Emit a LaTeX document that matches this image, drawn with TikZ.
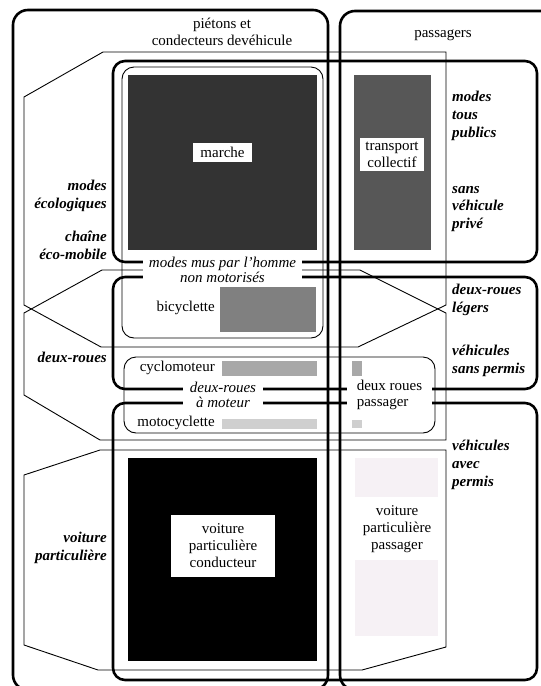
\documentclass[tikz,border=0pt]{standalone}
\usepackage{fontspec}
\setmainfont{Liberation Serif}
\definecolor{marchegray}{HTML}{333333}
\definecolor{transgray}{HTML}{575757}
\definecolor{bikegray}{HTML}{808080}
\definecolor{cyclogray}{HTML}{A8A8A8}
\definecolor{motogray}{HTML}{CFCFCF}
\definecolor{pinkish}{HTML}{F6F1F5}
\begin{document}
\begin{tikzpicture}[x=1pt,y=-1pt,
  heavyline/.style={line width=2.6pt, rounded corners=12pt},
  outerline/.style={line width=2.6pt, rounded corners=15pt},
  thinline/.style={line width=0.9pt, line join=miter},
  thinbox/.style={line width=0.9pt, rounded corners=12pt},
  lab/.style={font=\fontsize{15}{17}\selectfont, align=center, inner sep=0pt},
  whitelab/.style={lab, fill=white},
  gaplab/.style={font=\fontsize{15}{15.5}\itshape\selectfont, align=center, inner sep=0pt, fill=white},
  gaplabup/.style={font=\fontsize{15}{15.5}\selectfont, align=left, inner sep=0pt, fill=white},
  sidelab/.style={font=\fontsize{15}{17.7}\bfseries\itshape\selectfont, inner sep=0pt}
]
\useasboundingbox (0,0) rectangle (541,686);
\clip (0,0) rectangle (541,686);

% outer boxes
\draw[outerline] (13,10) rectangle (328,690);
\draw[outerline] (340,11) rectangle (600,690);

% thin octagonal groups
\draw[thinline] (103,52) -- (446,52) -- (446,305) -- (358,347) -- (101,347) -- (24,305) -- (24,97) -- cycle;
\draw[thinline] (102,270) -- (360,270) -- (446,313) -- (446,440) -- (100,440) -- (24,395) -- (24,313) -- cycle;
\draw[thinline] (100,450) -- (446,450) -- (446,647) -- (362,670) -- (98,670) -- (24,645) -- (24,475) -- cycle;

% thick category boxes
\draw[heavyline] (113,61) rectangle (537,262);
\draw[heavyline] (113,277) rectangle (537,389);
\draw[heavyline] (113,403) rectangle (537,680);

% thin rounded boxes
\draw[thinbox] (122,67) rectangle (323,338);
\draw[thinbox] (124,357) rectangle (435,433);

% filled areas
\fill[marchegray] (128,75) rectangle (317,250);
\fill[transgray] (354,75) rectangle (431,250);
\fill[bikegray] (220,287) rectangle (316,332);
\fill[cyclogray] (222,361) rectangle (317,376);
\fill[cyclogray] (352,361) rectangle (362,376);
\fill[motogray] (222,419) rectangle (317,429);
\fill[motogray] (352,420) rectangle (362,428);
\fill[black] (128,458) rectangle (317,661);
\fill[pinkish] (355,458) rectangle (438,497);
\fill[pinkish] (355,560) rectangle (438,636);

% texts
\node[lab] (pietons) at (222,31.5) {piétons et\\condecteurs devéhicule};
\node[lab] (passagers) at (443,35) {passagers};
\node[whitelab, minimum width=59pt, minimum height=19pt] (marche) at (222.5,152.5) {marche};
\node[whitelab, minimum width=64pt, minimum height=33pt] (transport) at (392,154.5) {transport\\collectif};
\node[lab, anchor=east] (bicyclette) at (215,308) {bicyclette};
\node[lab, anchor=east] (cyclo) at (215,368) {cyclomoteur};
\node[lab, anchor=east] (moto) at (215,423) {motocyclette};
\node[whitelab, minimum width=104pt, minimum height=62pt] (vpcond) at (223,546) {voiture\\particulière\\conducteur};
\node[lab] (vppass) at (397,529) {voiture\\particulière\\passager};

% gap labels on the thick lines
\node[gaplab, minimum width=159pt, minimum height=28pt] (mus) at (222.5,270) {modes mus par l’homme\\non motorisés};
\node[gaplab, minimum width=80pt, minimum height=30pt] (drmoteur) at (223,395) {deux-roues\\à moteur};
\node[gaplabup, minimum width=85pt, minimum height=30pt] (drpass) at (389.5,395) {deux roues\\passager};

% side labels right
\node[sidelab, anchor=west, align=left] (tous) at (452,116) {modes\\tous\\publics};
\node[sidelab, anchor=west, align=left] (sansveh) at (452,209) {sans\\véhicule\\privé};
\node[sidelab, anchor=west, align=left] (legers) at (452,300) {deux-roues\\légers};
\node[sidelab, anchor=west, align=left] (sanspermis) at (452,361) {véhicules\\sans permis};
\node[sidelab, anchor=west, align=left] (avecpermis) at (452,465) {véhicules\\avec\\permis};

% side labels left
\node[sidelab, anchor=east, align=right] (eco) at (107,196) {modes\\écologiques};
\node[sidelab, anchor=east, align=right] (chaine) at (107,245.5) {chaîne\\éco-mobile};
\node[sidelab, anchor=east, align=right] (deuxroues) at (107,357) {deux-roues};
\node[sidelab, anchor=east, align=right] (voiture) at (107,548) {voiture\\particulière};
\end{tikzpicture}
\end{document}
